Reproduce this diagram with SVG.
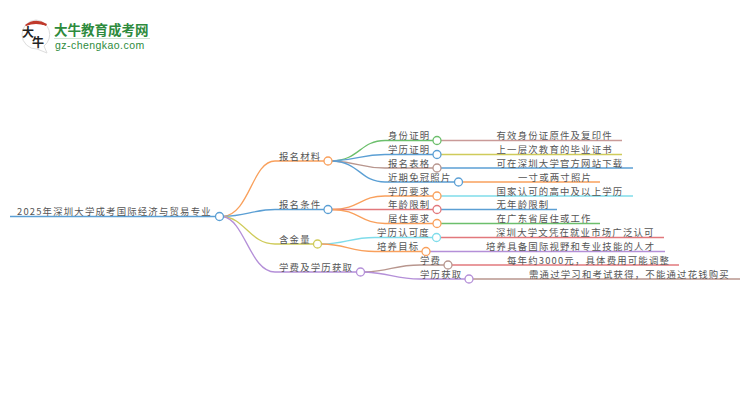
<svg xmlns="http://www.w3.org/2000/svg" width="750" height="410" viewBox="0 0 750 410">
<style>
text{font-family:"Noto Sans CJK SC","Liberation Sans",sans-serif;font-size:9.400px;fill:#555;letter-spacing:1.200px}
.c path{fill:none;stroke-width:1.3}
circle{fill:#fff;stroke-width:1.3}
.or{stroke:#f9a05c}.bl{stroke:#5b9fd4}.gn{stroke:#6cbf6c}.br{stroke:#b8968e}.ye{stroke:#cfcb5a}.cy{stroke:#7fdcea}.rd{stroke:#e2787c}.pu{stroke:#b48fd8}.ro{stroke:#c99a98}
</style>
<rect width="750" height="410" fill="#fff"/>
<g id="logo">
<path d="M36 20a14.500 14.500 0 1 0 1 29l10 4-3-7a14.500 14.500 0 0 0-8-26z" fill="#fff" stroke="#ddd"/>
<path d="M25 25q10-8 22-1l-1 2q-10-4-20 0z" fill="#c0392b"/>
<circle cx="42" cy="29" r="4" fill="#d9534f" stroke="none"/>
<text x="22" y="37" style="font-size:12px;fill:#222;letter-spacing:0;font-weight:700">大</text>
<text x="32" y="47" style="font-size:12px;fill:#222;letter-spacing:0;font-weight:700">牛</text>
<text x="54" y="35" style="font-size:13.500px;font-weight:700;fill:#2e8b3d;letter-spacing:0">大牛教育成考网</text>
<rect x="54" y="38" width="96" height="1" fill="#cfe3d2"/>
<text x="55" y="49" style="font-family:'Liberation Sans',sans-serif;font-size:10.500px;fill:#2e8b3d;letter-spacing:.45px">gz-chengkao.com</text>
</g>
<g id="connectors" class="c">
<path class="bl" d="M10 216.500H215"/>
<path class="or" d="M223 216.500C250 214 252 161 275 161H324"/>
<path class="bl" d="M223 216.500C245 216 255 209.500 275 209.500H324"/>
<path class="ye" d="M223 216.500C245 218 250 244 275 244H314"/>
<path class="pu" d="M223 216.500C245 220 250 272 275 272H356"/>
<path class="gn" d="M332 161C360 160 360 140.500 385 140.500H433"/>
<path class="bl" d="M332 161C360 160 360 154.500 385 154.500H433"/>
<path class="br" d="M332 161C360 162 360 168 385 168H433"/>
<path class="bl" d="M332 161C360 162 360 182 385 182H454"/>
<path class="or" d="M332 209.500C360 209 360 196 385 196H433"/>
<path class="rd" d="M332 209.500H433"/>
<path class="or" d="M332 209.500C360 210 360 223.500 385 223.500H433"/>
<path class="cy" d="M322 244C345 244 350 237.500 375 237.500H433"/>
<path class="or" d="M322 244C345 244 350 251.500 375 251.500H422"/>
<path class="br" d="M365 272C390 271 395 265 420 265H444"/>
<path class="pu" d="M365 272C390 273 395 279 420 279H465"/>
<path class="ro" d="M441 140.500H622"/>
<path class="ye" d="M441 154.500H622"/>
<path class="bl" d="M441 168H633"/>
<path class="or" d="M463 182H600"/>
<path class="cy" d="M441 196H633"/>
<path class="bl" d="M441 209.500H557"/>
<path class="gn" d="M441 223.500H600"/>
<path class="rd" d="M441 237.500H664"/>
<path class="pu" d="M430 251.500H665"/>
<path class="rd" d="M452 265H679"/>
<path class="br" d="M473 279H740"/>
</g>
<g id="root"><text x="17" y="215.300">2025年深圳大学成考国际经济与贸易专业</text><circle class="bl" cx="219.500" cy="216.500" r="4"/></g>
<g id="n1"><text x="279" y="159.800">报名材料</text><circle class="or" cx="328" cy="161" r="4"/></g>
<g id="n2"><text x="279" y="208.300">报名条件</text><circle class="bl" cx="328" cy="209.500" r="4"/></g>
<g id="n3"><text x="279" y="242.800">含金量</text><circle class="ye" cx="317.500" cy="244" r="4"/></g>
<g id="n4"><text x="279" y="270.800">学费及学历获取</text><circle class="pu" cx="360.500" cy="272" r="4"/></g>
<g id="n11"><text x="388" y="139.300">身份证明</text><circle class="gn" cx="437" cy="140.500" r="4"/><text x="496.500" y="139.300">有效身份证原件及复印件</text></g>
<g id="n12"><text x="388" y="153.300">学历证明</text><circle class="bl" cx="437" cy="154.500" r="4"/><text x="496.500" y="153.300">上一层次教育的毕业证书</text></g>
<g id="n13"><text x="388" y="166.800">报名表格</text><circle class="br" cx="437" cy="168" r="4"/><text x="496.500" y="166.800">可在深圳大学官方网站下载</text></g>
<g id="n14"><text x="388" y="180.800">近期免冠照片</text><circle class="bl" cx="458.500" cy="182" r="4"/><text x="518" y="180.800">一寸或两寸照片</text></g>
<g id="n21"><text x="388" y="194.800">学历要求</text><circle class="or" cx="437" cy="196" r="4"/><text x="496.500" y="194.800">国家认可的高中及以上学历</text></g>
<g id="n22"><text x="388" y="208.300">年龄限制</text><circle class="rd" cx="437" cy="209.500" r="4"/><text x="496.500" y="208.300">无年龄限制</text></g>
<g id="n23"><text x="388" y="222.300">居住要求</text><circle class="or" cx="437" cy="223.500" r="4"/><text x="496.500" y="222.300">在广东省居住或工作</text></g>
<g id="n31"><text x="377" y="236.300">学历认可度</text><circle class="cy" cx="436.500" cy="237.500" r="4"/><text x="496" y="236.300">深圳大学文凭在就业市场广泛认可</text></g>
<g id="n32"><text x="377" y="250.300">培养目标</text><circle class="or" cx="426" cy="251.500" r="4"/><text x="486" y="250.300">培养具备国际视野和专业技能的人才</text></g>
<g id="n41"><text x="420" y="263.800">学费</text><circle class="br" cx="448" cy="265" r="4"/><text x="507" y="263.800">每年约3000元，具体费用可能调整</text></g>
<g id="n42"><text x="420" y="277.800">学历获取</text><circle class="pu" cx="469" cy="279" r="4"/><text x="529" y="277.800">需通过学习和考试获得，不能通过花钱购买</text></g>
</svg>
